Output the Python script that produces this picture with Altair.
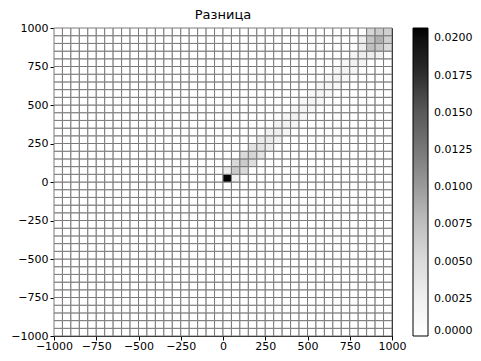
import altair as alt
import pandas as pd

# grid definition: 40 x 40 cells of 50 units from -1000 to 1000
cell_size = 50
n_cells = 40
axis_ticks = [-1000, -750, -500, -250, 0, 250, 500, 750, 1000]
cbar_ticks = [0.0, 0.0025, 0.005, 0.0075, 0.01, 0.0125, 0.015, 0.0175, 0.02]
vmax = 0.0207
greys = ["#ffffff", "#f0f0f0", "#d9d9d9", "#bdbdbd", "#969696",
         "#737373", "#525252", "#252525", "#000000"]

# diagonal cells (column index k = row index k, counted from x=0,y=0)
diag_k = list(range(20))
diag_vals = [0.0207, 0.0065, 0.0065, 0.0055, 0.0042, 0.0032, 0.0026, 0.0022, 0.0020, 0.0019,
             0.0018, 0.0018, 0.0018, 0.0019, 0.0020, 0.0022, 0.0028, 0.0075, 0.0085, 0.0060]
# cells just above the diagonal (col k, row k+1)
upper_vals = [0.0030, 0.0052, 0.0050, 0.0042, 0.0032, 0.0024, 0.0019, 0.0016, 0.0015, 0.0014,
              0.0014, 0.0014, 0.0014, 0.0015, 0.0016, 0.0018, 0.0030, 0.0070, 0.0065, 0.0]
# cells just below the diagonal (col k+1, row k)
lower_vals = [0.0025, 0.0048, 0.0046, 0.0038, 0.0030, 0.0022, 0.0018, 0.0015, 0.0014, 0.0013,
              0.0013, 0.0013, 0.0013, 0.0014, 0.0015, 0.0017, 0.0028, 0.0068, 0.0060, 0.0]
# extra top-right block cells (col, row, value)
extra_cells = [(17, 19, 0.0055), (19, 17, 0.0050), (18, 16, 0.0025), (16, 18, 0.0028)]

vals = {}
for k, v in zip(diag_k, diag_vals):
    vals[(k, k)] = v
for k, v in zip(diag_k, upper_vals):
    if k + 1 < 20 and v > 0:
        vals[(k, k + 1)] = v
for k, v in zip(diag_k, lower_vals):
    if k + 1 < 20 and v > 0:
        vals[(k + 1, k)] = v
for c, r, v in extra_cells:
    vals[(c, r)] = v

rows = []
for i in range(n_cells):
    for j in range(n_cells):
        cx = i - 20
        cy = j - 20
        rows.append({
            "x0": cx * cell_size, "x1": (cx + 1) * cell_size,
            "y0": cy * cell_size, "y1": (cy + 1) * cell_size,
            "v": vals.get((cx, cy), 0.0),
        })
df = pd.DataFrame(rows)

font = "DejaVu Sans"
plot_h = 308

chart = alt.Chart(df).mark_rect(stroke="#7a7a7a", strokeWidth=1).encode(
    x=alt.X("x0:Q", scale=alt.Scale(domain=[-1000, 1000], nice=False, zero=False),
            axis=alt.Axis(values=axis_ticks, title=None, grid=False, format="d",
                          labelFont=font, labelFontSize=11, labelColor="black",
                          domainColor="black", tickColor="black", tickSize=4,
                          labelPadding=0, labelOverlap=False, labelFlush=False)),
    x2="x1:Q",
    y=alt.Y("y0:Q", scale=alt.Scale(domain=[-1000, 1000], nice=False, zero=False),
            axis=alt.Axis(values=axis_ticks, title=None, grid=False, format="d",
                          labelFont=font, labelFontSize=11, labelColor="black",
                          domainColor="black", tickColor="black", tickSize=4,
                          labelPadding=2, labelOverlap=False, labelFlush=False)),
    y2="y1:Q",
    color=alt.Color("v:Q",
                    scale=alt.Scale(range=greys, domain=[0, vmax]),
                    legend=alt.Legend(title=None, values=cbar_ticks, format=".4f",
                                      orient="none", legendX=359, legendY=0,
                                      gradientLength=plot_h, gradientThickness=15,
                                      gradientStrokeColor="black", gradientStrokeWidth=1,
                                      labelFont=font, labelFontSize=11, labelColor="black",
                                      labelOverlap=False, labelOffset=6)),
).properties(
    width=338, height=plot_h,
    title=alt.Title("Разница", font=font, fontSize=13, fontWeight="normal", offset=0),
    autosize=alt.AutoSizeParams(type="none"),
    padding={"left": 46, "top": 20, "right": 81, "bottom": 17},
).configure_view(stroke="black", strokeWidth=1)

chart.save("out.html", embed_options={"renderer": "svg", "actions": False})
